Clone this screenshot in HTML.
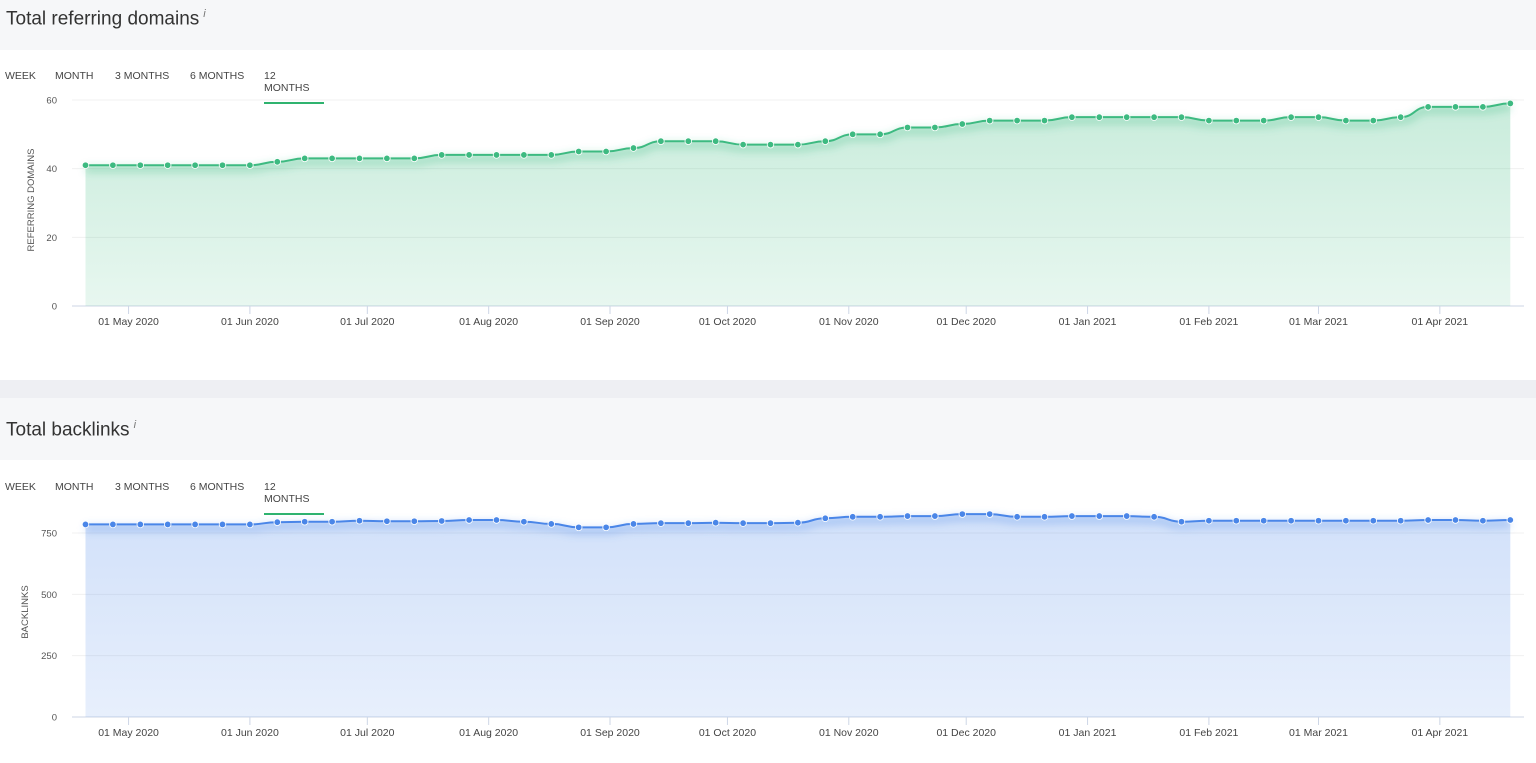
<!DOCTYPE html>
<html><head><meta charset="utf-8">
<style>
html,body{margin:0;padding:0;width:1536px;height:763px;overflow:hidden;background:#f6f7f9;font-family:"Liberation Sans",sans-serif;}
.abs{position:absolute;}
.title{position:absolute;left:6px;font-size:19px;color:#333;}
.title sup{font-size:11px;font-style:italic;color:#777;margin-left:4px;}
.card{position:absolute;left:0;width:1536px;background:#fff;}
.tab{position:absolute;font-size:10.5px;color:#444;}
.tab.on{border-bottom:2px solid #2fb36f;padding-bottom:8px;}
svg text{font-family:"Liberation Sans",sans-serif;}
</style></head>
<body>
<div class="abs" style="left:0;top:380px;width:1536px;height:18px;background:#eeeff3"></div>
<div class="title" style="top:8px">Total referring domains<sup>i</sup></div>
<div class="card" style="top:50px;height:330px"></div>
<div class="title" style="top:419px">Total backlinks<sup>i</sup></div>
<div class="card" style="top:460px;height:303px"></div>

<div class="tab" style="left:5px;top:70px">WEEK</div>
<div class="tab" style="left:55px;top:70px">MONTH</div>
<div class="tab" style="left:115px;top:70px">3 MONTHS</div>
<div class="tab" style="left:190px;top:70px">6 MONTHS</div>
<div class="tab on" style="left:264px;top:70px;width:60px">12 MONTHS</div>

<div class="tab" style="left:5px;top:481px">WEEK</div>
<div class="tab" style="left:55px;top:481px">MONTH</div>
<div class="tab" style="left:115px;top:481px">3 MONTHS</div>
<div class="tab" style="left:190px;top:481px">6 MONTHS</div>
<div class="tab on" style="left:264px;top:481px;width:60px">12 MONTHS</div>

<svg id="chart" class="abs" style="left:0;top:0" width="1536" height="763"></svg>

<script>
const refDomains = [41,41,41,41,41,41,41,42,43,43,43,43,43,44,44,44,44,44,45,45,46,48,48,48,47,47,47,48,50,50,52,52,53,54,54,54,55,55,55,55,55,54,54,54,55,55,54,54,55,58,58,58,59];
const backlinks = [785,785,785,785,785,785,785,794,796,796,800,798,798,799,803,803,796,787,773,773,787,790,790,792,790,790,792,810,816,816,819,819,827,827,816,816,819,819,819,816,796,800,800,800,800,800,800,800,800,803,803,800,803];
const monthLabels = ["01 May 2020","01 Jun 2020","01 Jul 2020","01 Aug 2020","01 Sep 2020","01 Oct 2020","01 Nov 2020","01 Dec 2020","01 Jan 2021","01 Feb 2021","01 Mar 2021","01 Apr 2021"];
const monthDates = ["2020-05-01","2020-06-01","2020-07-01","2020-08-01","2020-09-01","2020-10-01","2020-11-01","2020-12-01","2021-01-01","2021-02-01","2021-03-01","2021-04-01"];
const startDate = "2020-04-20";
const ticksTop = [0,20,40,60];
const ticksBottom = [0,250,500,750];

const NS="http://www.w3.org/2000/svg";
const svg=document.getElementById('chart');
const DAY=86400000, t0=Date.parse(startDate), X0=85.5, PXDAY=27.4/7;
function xDate(s){return X0+(Date.parse(s)-t0)/DAY*PXDAY;}
function xIdx(i){return X0+i*7*PXDAY;}
function mk(tag,attrs,parent){const e=document.createElementNS(NS,tag);for(const k in attrs)e.setAttribute(k,attrs[k]);(parent||svg).appendChild(e);return e;}

const defs=mk('defs',{});
function grad(id,c,a1,a2){const g=mk('linearGradient',{id:id,x1:0,y1:0,x2:0,y2:1},defs);mk('stop',{offset:0,'stop-color':c,'stop-opacity':a1},g);mk('stop',{offset:1,'stop-color':c,'stop-opacity':a2},g);}
grad('gG','#3dbb80',0.28,0.12);grad('gB','#4a86e8',0.25,0.13);
const f=mk('filter',{id:'glow',x:'-5%',y:'-100%',width:'110%',height:'300%'},defs);
mk('feGaussianBlur',{stdDeviation:4},f);

function smooth(pts){let d='M'+pts[0][0]+','+pts[0][1];for(let i=1;i<pts.length;i++){const p=pts[i-1],q=pts[i],mx=(p[0]+q[0])/2;d+=' C'+mx+','+p[1]+' '+mx+','+q[1]+' '+q[0]+','+q[1];}return d;}

function chart(o){
  const y=v=>o.y0-(v-0)/o.max*(o.y0-o.yTop);
  o.ticks.forEach(t=>{
    const gl=mk('line',{x1:72,x2:1524,y1:y(t),y2:y(t),stroke:t===0?'#cdd6e6':'#f0f0f0','stroke-width':1});
    
    
    const tx=mk('text',{x:57,y:y(t)+3.5,'text-anchor':'end','font-size':9.5,fill:'#555'});
    tx.textContent=t;
    
    
  });
  const pts=o.data.map((v,i)=>[xIdx(i),y(v)]);
  const d=smooth(pts);
  const area=mk('path',{d:d+' L'+pts[pts.length-1][0]+','+o.y0+' L'+pts[0][0]+','+o.y0+' Z',fill:'url(#'+o.grad+')'});
  
  
  const glow=mk('path',{d:d,fill:'none',stroke:o.color,'stroke-width':6,'stroke-opacity':0.35,filter:'url(#glow)',transform:'translate(0,4)'});
  
  
  const line=mk('path',{d:d,fill:'none',stroke:o.color,'stroke-width':2});
  
  
  pts.forEach(p=>{
    const c=mk('circle',{cx:p[0],cy:p[1],r:3.3,fill:o.color,stroke:'#fff','stroke-width':0.8});
    
    
  });
  monthDates.forEach((m,i)=>{
    const x=xDate(m);
    const tk=mk('line',{x1:x,x2:x,y1:o.y0,y2:o.y0+8,stroke:'#cdd6e6'});
    
    
    const lb=mk('text',{x:x,y:o.y0+19,'text-anchor':'middle','font-size':10.5,fill:'#444'});
    lb.textContent=monthLabels[i];
    
    
  });
  const yt=mk('text',{x:0,y:0,'text-anchor':'middle','font-size':9.5,fill:'#555',transform:'translate('+o.labX+','+o.labY+') rotate(-90)'});
  yt.textContent=o.label;
  
  
}
chart({name:'referring-domains',data:refDomains,ticks:ticksTop,max:60,y0:306,yTop:100,color:'#3dba81',grad:'gG',label:'REFERRING DOMAINS',labX:34,labY:200});
chart({name:'backlinks',data:backlinks,ticks:ticksBottom,max:750,y0:717,yTop:533,color:'#4a86e8',grad:'gB',label:'BACKLINKS',labX:28,labY:612});
</script>
</body></html>
